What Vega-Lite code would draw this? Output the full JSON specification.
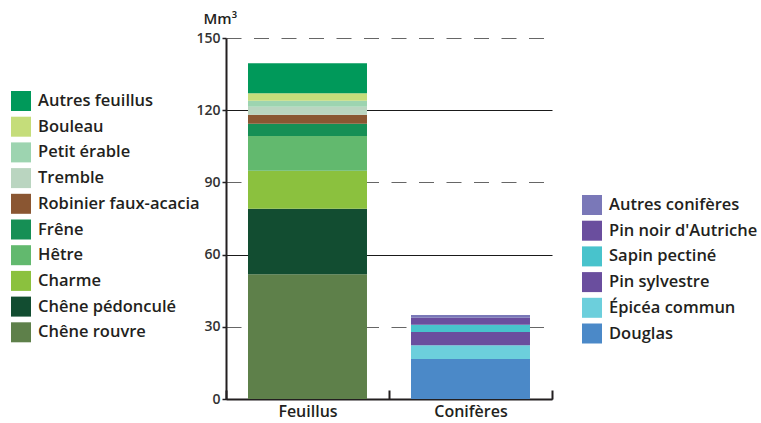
{
  "$schema": "https://vega.github.io/schema/vega-lite/v6.json",
  "width": 326,
  "height": 361,
  "autosize": "none",
  "padding": {"left": 226, "top": 38, "right": 209, "bottom": 24},
  "background": "white",
  "config": {
    "font": "Open Sans",
    "view": {"stroke": null},
    "legend": {
      "labelFont": "Open Sans",
      "labelFontSize": 16.5,
      "labelFontWeight": 600,
      "labelColor": "#231f20",
      "labelLimit": 400,
      "symbolType": "square",
      "symbolSize": 400,
      "symbolStrokeWidth": 0,
      "rowPadding": 5.7,
      "labelOffset": 7,
      "title": null,
      "symbolOpacity": 1
    }
  },
  "data": {
    "values": [
      {"groupe": "Feuillus", "essence": "Chêne rouvre", "volume": 51.8, "ordre": 1},
      {"groupe": "Feuillus", "essence": "Chêne pédonculé", "volume": 27.3, "ordre": 2},
      {"groupe": "Feuillus", "essence": "Charme", "volume": 15.7, "ordre": 3},
      {"groupe": "Feuillus", "essence": "Hêtre", "volume": 14.5, "ordre": 4},
      {"groupe": "Feuillus", "essence": "Frêne", "volume": 5.1, "ordre": 5},
      {"groupe": "Feuillus", "essence": "Robinier faux-acacia", "volume": 3.7, "ordre": 6},
      {"groupe": "Feuillus", "essence": "Tremble", "volume": 3.3, "ordre": 7},
      {"groupe": "Feuillus", "essence": "Petit érable", "volume": 2.5, "ordre": 8},
      {"groupe": "Feuillus", "essence": "Bouleau", "volume": 3.1, "ordre": 9},
      {"groupe": "Feuillus", "essence": "Autres feuillus", "volume": 12.5, "ordre": 10},
      {"groupe": "Conifères", "essence": "Douglas", "volume": 16.6, "ordre": 1},
      {"groupe": "Conifères", "essence": "Épicéa commun", "volume": 5.7, "ordre": 2},
      {"groupe": "Conifères", "essence": "Pin sylvestre", "volume": 5.5, "ordre": 3},
      {"groupe": "Conifères", "essence": "Sapin pectiné", "volume": 3.1, "ordre": 4},
      {"groupe": "Conifères", "essence": "Pin noir d'Autriche", "volume": 2.9, "ordre": 5},
      {"groupe": "Conifères", "essence": "Autres conifères", "volume": 1.1, "ordre": 6}
    ]
  },
  "encoding": {
    "x": {
      "field": "groupe",
      "type": "nominal",
      "scale": {"domain": ["Feuillus", "Conifères"], "paddingInner": 0, "paddingOuter": 0},
      "axis": {
        "title": null,
        "labelAngle": 0,
        "labelFont": "Open Sans",
        "labelFontSize": 16,
        "labelFontWeight": 600,
        "labelColor": "#231f20",
        "labelPadding": 13,
        "domainColor": "#231f20",
        "domainWidth": 2,
        "tickColor": "#231f20",
        "tickWidth": 2,
        "tickSize": -9,
        "tickBand": "extent",
        "grid": false
      }
    },
    "y": {
      "field": "volume",
      "type": "quantitative",
      "stack": "zero",
      "scale": {"domain": [0, 150], "nice": false},
      "axis": {
        "title": "Mm³",
        "titleAngle": 0,
        "titleAlign": "left",
        "titleBaseline": "alphabetic",
        "titleX": -23,
        "titleY": -15,
        "titleFont": "Open Sans",
        "titleFontSize": 15,
        "titleFontWeight": 600,
        "titleColor": "#231f20",
        "values": [0, 30, 60, 90, 120, 150],
        "labelFont": "Open Sans",
        "labelFontSize": 14,
        "labelFontWeight": 600,
        "labelColor": "#333333",
        "labelPadding": 2,
        "tickSize": 4,
        "tickColor": "#231f20",
        "tickWidth": 1.5,
        "domainColor": "#231f20",
        "domainWidth": 2,
        "grid": true,
        "gridColor": {"condition": {"test": "datum.value % 60 === 0", "value": "#1a1a1a"}, "value": "#666666"},
        "gridDash": {"condition": {"test": "datum.value % 60 === 0", "value": []}, "value": [15, 12.5]},
        "gridWidth": 1.2
      }
    },
    "order": {"field": "ordre", "type": "quantitative"}
  },
  "layer": [
    {
      "transform": [{"filter": "datum.groupe === 'Feuillus'"}],
      "mark": {"type": "bar", "width": {"band": 0.73}},
      "encoding": {
        "color": {
          "field": "essence",
          "type": "nominal",
          "scale": {
            "domain": ["Autres feuillus", "Bouleau", "Petit érable", "Tremble", "Robinier faux-acacia", "Frêne", "Hêtre", "Charme", "Chêne pédonculé", "Chêne rouvre"],
            "range": ["#00995a", "#c5dd7a", "#9dd4b0", "#bad5c0", "#8a5632", "#168f55", "#62b96e", "#8bc13e", "#124d31", "#5e804a"]
          },
          "legend": {"orient": "none", "legendX": -215, "legendY": 53}
        }
      }
    },
    {
      "transform": [{"filter": "datum.groupe === 'Conifères'"}],
      "mark": {"type": "bar", "width": {"band": 0.73}},
      "encoding": {
        "color": {
          "field": "essence",
          "type": "nominal",
          "scale": {
            "domain": ["Autres conifères", "Pin noir d'Autriche", "Sapin pectiné", "Pin sylvestre", "Épicéa commun", "Douglas"],
            "range": ["#7a78b8", "#6a4e9e", "#48c3cc", "#6a4e9e", "#6ccfdc", "#4b89c8"]
          },
          "legend": {"orient": "none", "legendX": 356, "legendY": 157}
        }
      }
    }
  ],
  "resolve": {"scale": {"color": "independent"}}
}
